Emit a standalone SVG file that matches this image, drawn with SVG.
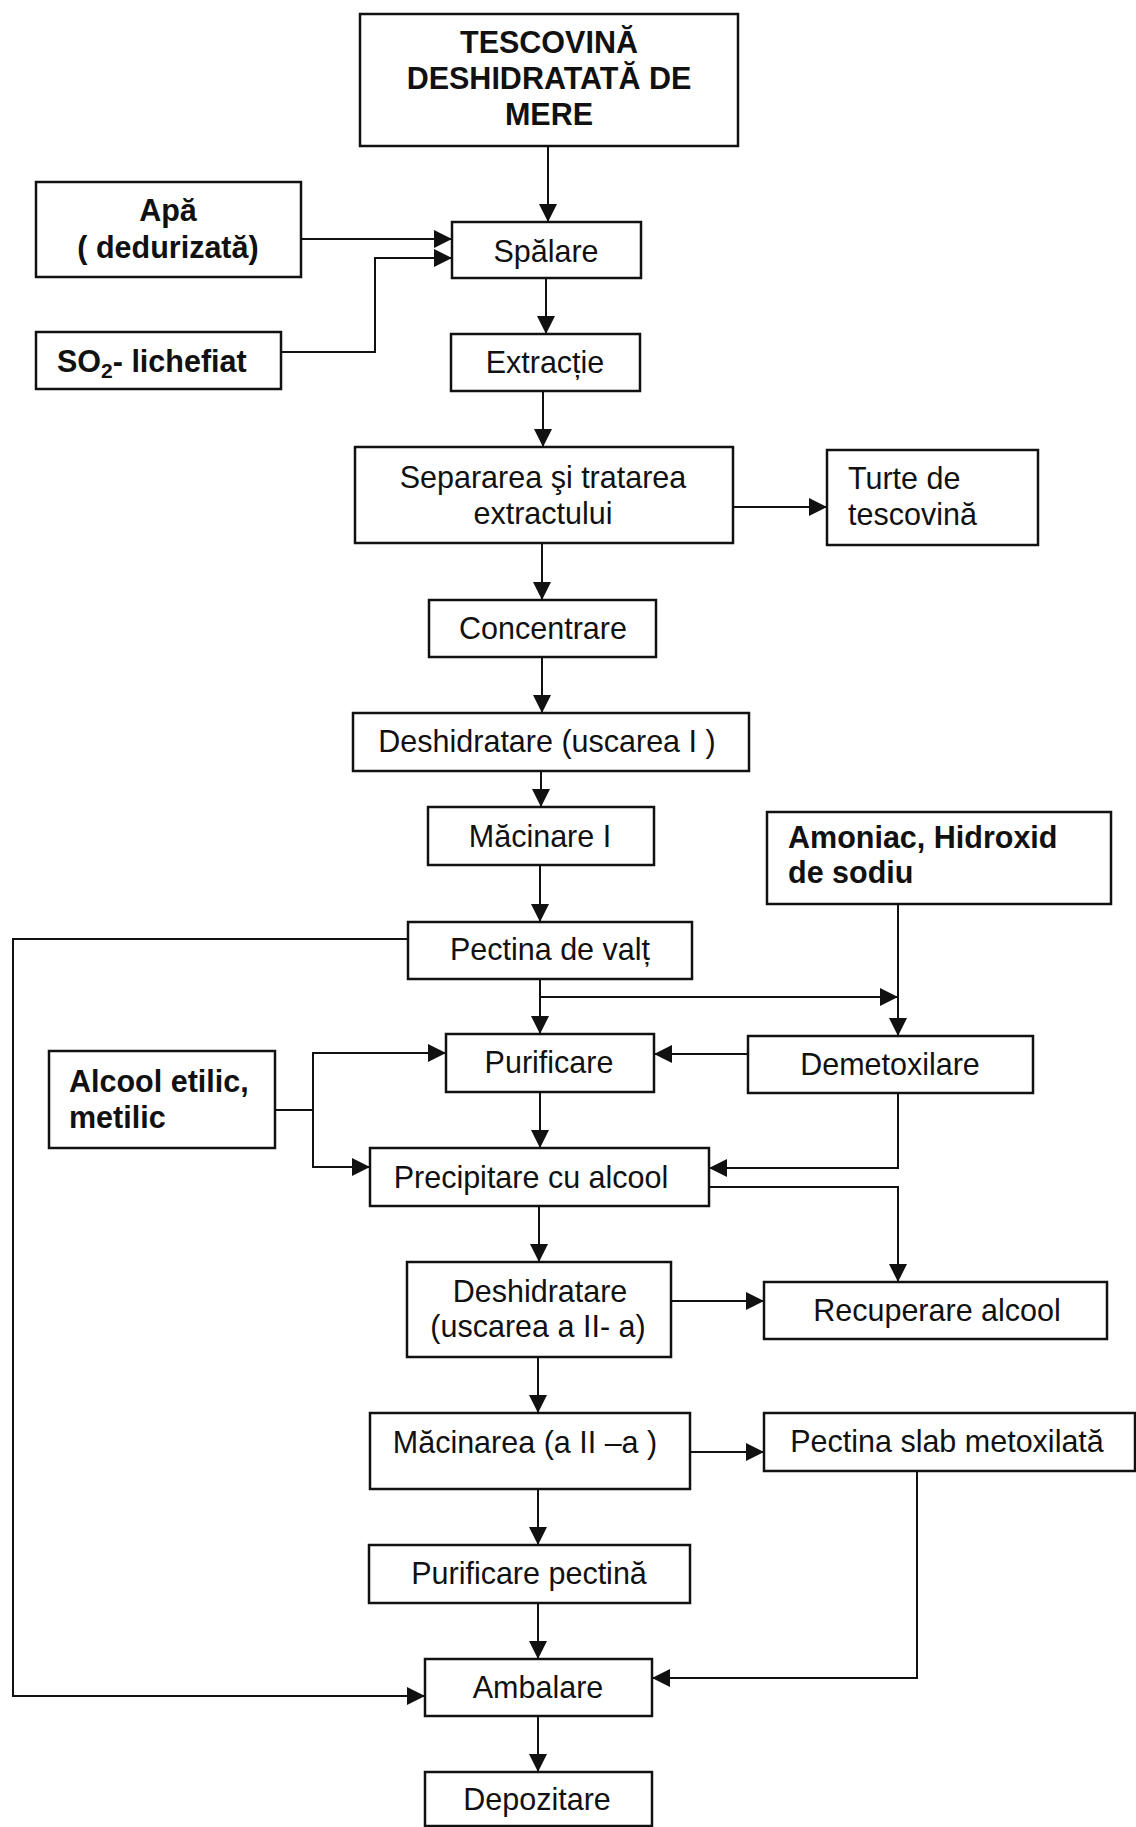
<svg xmlns="http://www.w3.org/2000/svg" width="1136" height="1827" viewBox="0 0 1136 1827">
  <defs>
    <marker id="arrow" markerUnits="userSpaceOnUse" markerWidth="19" markerHeight="19" refX="18" refY="9" orient="auto">
      <path d="M0,0 L18,9 L0,18 z" fill="#111"/>
    </marker>
    <style>
      rect.box { fill: #fff; stroke: #111; stroke-width: 2.5; }
      .t { font-family: "Liberation Sans", Arial, sans-serif; font-size: 30.5px; fill: #111; }
      .c { text-anchor: middle; }
      .b { font-weight: bold; }
      #connectors path { fill: none; stroke: #111; stroke-width: 2; }
      .a { marker-end: url(#arrow); }
    </style>
  </defs>
  <rect width="1136" height="1827" fill="#fff"/>

  <!-- connectors -->
  <g id="connectors">
    <path class="a" d="M548,147 V222"/>
    <path class="a" d="M301,239 H452"/>
    <path class="a" d="M281,352 H375 V258 H452"/>
    <path class="a" d="M546,278 V334"/>
    <path class="a" d="M543,391 V447"/>
    <path class="a" d="M733,507 H827"/>
    <path class="a" d="M542,543 V600"/>
    <path class="a" d="M542,657 V713"/>
    <path class="a" d="M541,771 V807"/>
    <path class="a" d="M540,865 V922"/>
    <path class="a" d="M408,939 H13 V1696 H425"/>
    <path class="a" d="M540,979 V1034"/>
    <path class="a" d="M540,997 H898"/>
    <path class="a" d="M898,904 V1036"/>
    <path class="a" d="M748,1054 H654"/>
    <path d="M275,1110 H313"/>
    <path class="a" d="M313,1110 V1053 H446"/>
    <path class="a" d="M313,1110 V1167 H370"/>
    <path class="a" d="M540,1092 V1148"/>
    <path class="a" d="M898,1093 V1168 H709"/>
    <path class="a" d="M709,1187 H898 V1282"/>
    <path class="a" d="M539,1206 V1262"/>
    <path class="a" d="M671,1301 H764"/>
    <path class="a" d="M538,1357 V1413"/>
    <path class="a" d="M690,1452 H764"/>
    <path class="a" d="M538,1489 V1545"/>
    <path class="a" d="M917,1471 V1678 H652"/>
    <path class="a" d="M538,1603 V1659"/>
    <path class="a" d="M538,1716 V1772"/>
  </g>

  <g id="tescovina">
    <rect class="box" x="360" y="14" width="378" height="132"/>
    <text class="t b c" x="549" y="53">TESCOVINĂ</text>
    <text class="t b c" x="549" y="89">DESHIDRATATĂ DE</text>
    <text class="t b c" x="549" y="125">MERE</text>
  </g>
  <g id="apa">
    <rect class="box" x="36" y="182" width="265" height="95"/>
    <text class="t b c" x="168" y="221">Apă</text>
    <text class="t b c" x="168" y="258">( dedurizată)</text>
  </g>
  <g id="so2">
    <rect class="box" x="36" y="332" width="245" height="57"/>
    <text class="t b" x="57" y="372">SO<tspan font-size="21" dy="6">2</tspan><tspan dy="-6">- lichefiat</tspan></text>
  </g>
  <g id="spalare">
    <rect class="box" x="452" y="222" width="189" height="56"/>
    <text class="t c" x="546" y="262">Spălare</text>
  </g>
  <g id="extractie">
    <rect class="box" x="451" y="334" width="189" height="57"/>
    <text class="t c" x="545" y="373">Extracție</text>
  </g>
  <g id="separarea">
    <rect class="box" x="355" y="447" width="378" height="96"/>
    <text class="t c" x="543" y="488">Separarea şi tratarea</text>
    <text class="t c" x="543" y="524">extractului</text>
  </g>
  <g id="turte">
    <rect class="box" x="827" y="450" width="211" height="95"/>
    <text class="t" x="848" y="489">Turte de</text>
    <text class="t" x="848" y="525">tescovină</text>
  </g>
  <g id="concentrare">
    <rect class="box" x="429" y="600" width="227" height="57"/>
    <text class="t c" x="543" y="639">Concentrare</text>
  </g>
  <g id="deshidratare1">
    <rect class="box" x="353" y="713" width="396" height="58"/>
    <text class="t c" x="547" y="752">Deshidratare (uscarea I )</text>
  </g>
  <g id="macinare1">
    <rect class="box" x="428" y="807" width="226" height="58"/>
    <text class="t c" x="540" y="847">Măcinare I</text>
  </g>
  <g id="amoniac">
    <rect class="box" x="767" y="812" width="344" height="92"/>
    <text class="t b" x="788" y="848">Amoniac, Hidroxid</text>
    <text class="t b" x="788" y="883">de sodiu</text>
  </g>
  <g id="pectina-valt">
    <rect class="box" x="408" y="922" width="284" height="57"/>
    <text class="t c" x="550" y="960">Pectina de valț</text>
  </g>
  <g id="purificare">
    <rect class="box" x="446" y="1034" width="208" height="58"/>
    <text class="t c" x="549" y="1073">Purificare</text>
  </g>
  <g id="demetoxilare">
    <rect class="box" x="748" y="1036" width="285" height="57"/>
    <text class="t c" x="890" y="1075">Demetoxilare</text>
  </g>
  <g id="alcool">
    <rect class="box" x="49" y="1051" width="226" height="97"/>
    <text class="t b" x="69" y="1092">Alcool etilic,</text>
    <text class="t b" x="69" y="1128">metilic</text>
  </g>
  <g id="precipitare">
    <rect class="box" x="370" y="1148" width="339" height="58"/>
    <text class="t c" x="531" y="1188">Precipitare cu alcool</text>
  </g>
  <g id="deshidratare2">
    <rect class="box" x="407" y="1262" width="264" height="95"/>
    <text class="t c" x="540" y="1302">Deshidratare</text>
    <text class="t c" x="538" y="1337">(uscarea a II- a)</text>
  </g>
  <g id="recuperare">
    <rect class="box" x="764" y="1282" width="343" height="57"/>
    <text class="t c" x="937" y="1321">Recuperare alcool</text>
  </g>
  <g id="macinare2">
    <rect class="box" x="370" y="1413" width="320" height="76"/>
    <text class="t c" x="525" y="1453">Măcinarea (a II –a )</text>
  </g>
  <g id="pectina-slab">
    <rect class="box" x="764" y="1413" width="371" height="58"/>
    <text class="t c" x="947" y="1452">Pectina slab metoxilată</text>
  </g>
  <g id="purificare-pectina">
    <rect class="box" x="369" y="1545" width="321" height="58"/>
    <text class="t c" x="529" y="1584">Purificare pectină</text>
  </g>
  <g id="ambalare">
    <rect class="box" x="425" y="1659" width="227" height="57"/>
    <text class="t c" x="538" y="1698">Ambalare</text>
  </g>
  <g id="depozitare">
    <rect class="box" x="425" y="1772" width="227" height="54"/>
    <text class="t c" x="537" y="1810">Depozitare</text>
  </g>
</svg>
